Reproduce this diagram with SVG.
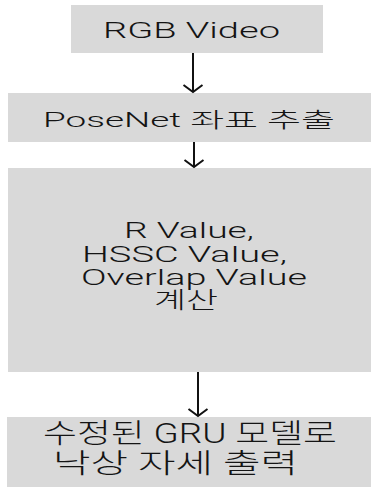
<svg xmlns="http://www.w3.org/2000/svg" width="371" height="487" viewBox="0 0 371 487">
<style>
.box{fill:#d9d9d9;}
.t{font-family:Roboto,"Noto Sans CJK KR",sans-serif;fill:#141414;font-weight:300;}
.c{stroke:#111;stroke-width:2;fill:none;}
</style>
<defs>
<marker id="ah" markerUnits="userSpaceOnUse" markerWidth="24" markerHeight="24" refX="0" refY="0" viewBox="-12 -12 24 24" orient="auto" overflow="visible">
<path d="M-7,-9.5 L0,0 L-7,9.5" stroke="#111" stroke-width="2" fill="none"/>
</marker>
</defs>
<rect width="371" height="487" fill="#ffffff"/>
<g id="n1">
<rect class="box" x="71" y="5" width="252" height="48"/>
<text class="t" x="103" y="38" font-size="22" textLength="177" lengthAdjust="spacingAndGlyphs">RGB Video</text>
</g>
<g id="n2">
<rect class="box" x="8" y="93" width="363" height="49"/>
<text class="t" x="43" y="127" font-size="21" textLength="292" lengthAdjust="spacingAndGlyphs">PoseNet 좌표 추출</text>
</g>
<g id="n3">
<rect class="box" x="8" y="168" width="363" height="204"/>
<text class="t" x="124" y="238" font-size="22.5" textLength="130" lengthAdjust="spacingAndGlyphs">R Value,</text>
<text class="t" x="82" y="262" font-size="22.5" textLength="205" lengthAdjust="spacingAndGlyphs">HSSC Value,</text>
<text class="t" x="81" y="285" font-size="22.5" textLength="226" lengthAdjust="spacingAndGlyphs">Overlap Value</text>
<text class="t" x="154" y="308" font-size="22.5" textLength="64" lengthAdjust="spacingAndGlyphs">계산</text>
</g>
<g id="n4">
<rect class="box" x="7" y="417" width="364" height="70"/>
<text class="t" x="43" y="443" font-size="27" textLength="294" lengthAdjust="spacingAndGlyphs">수정된 GRU 모델로</text>
<text class="t" x="53" y="473" font-size="27" textLength="245" lengthAdjust="spacingAndGlyphs">낙상 자세 출력</text>
</g>
<g id="connectors">
<line class="c" x1="193" y1="53" x2="193" y2="92" marker-end="url(#ah)"/>
<line class="c" x1="194" y1="142" x2="194" y2="167" marker-end="url(#ah)"/>
<line class="c" x1="198" y1="372" x2="198" y2="416" marker-end="url(#ah)"/>
</g>
</svg>
